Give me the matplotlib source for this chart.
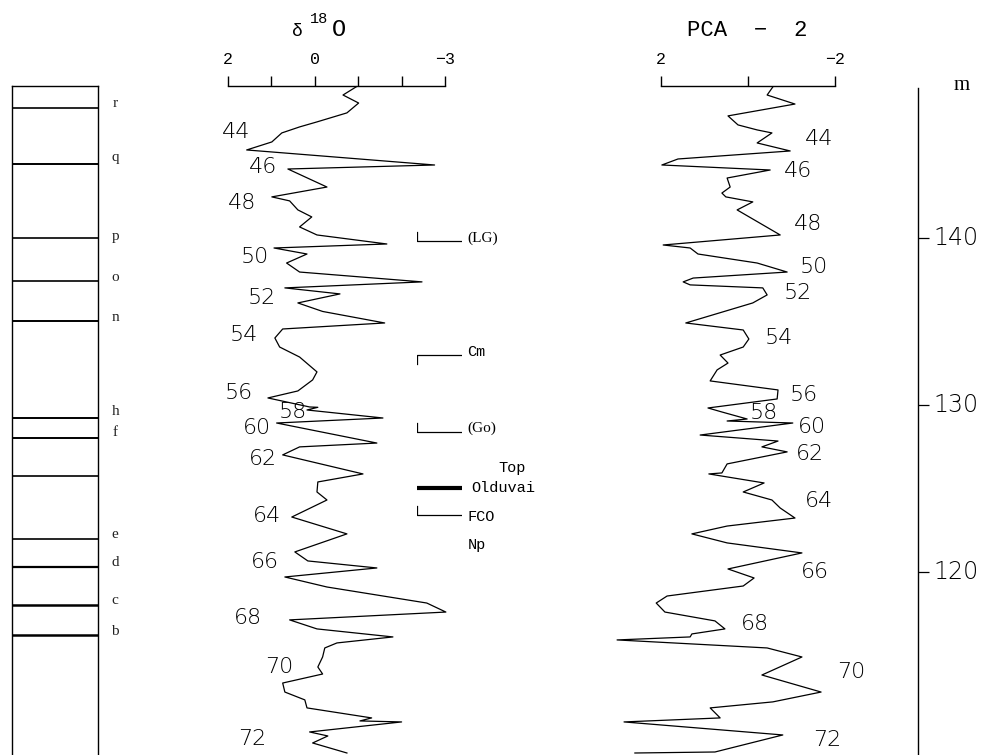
import matplotlib
matplotlib.use('Agg')
import matplotlib.pyplot as plt

# ---------------- data ----------------
# lithology column boundaries (depth, m) and labels
lith_depth = [147.8, 144.4, 140.0, 137.4, 135.0, 129.2, 128.0, 125.75, 122.0, 120.3, 118.0, 116.2]
lith_width = [1.2, 1.4, 1.2, 1.2, 1.4, 1.4, 1.4, 1.2, 1.2, 1.6, 1.8, 1.8]
lith_label_names = ['r', 'q', 'p', 'o', 'n', 'h', 'f', 'e', 'd', 'c', 'b']
lith_label_depth = [148.08, 144.79, 140.06, 137.66, 135.21, 129.58, 128.38, 122.22, 120.54, 118.32, 116.41]

# delta 18O curve
d18o_depth = [149.06, 148.56, 148.08, 147.49, 147.31, 146.95, 146.65, 146.29, 145.75, 145.27,
              144.37, 144.13, 143.05, 142.46, 142.22, 141.68, 141.26, 140.66, 140.18, 139.64,
              139.40, 139.04, 138.50, 137.96, 137.37, 137.01, 136.65, 136.11, 135.60, 134.91,
              134.55, 134.01, 133.47, 132.87, 131.98, 131.50, 130.84, 130.42, 129.88, 129.86,
              129.70, 129.22, 128.92, 127.72, 127.49, 127.01, 125.87, 125.39, 124.79, 124.31,
              123.29, 122.28, 121.20, 120.66, 120.24, 119.70, 119.10, 118.14, 117.60, 117.13,
              116.59, 116.11, 115.75, 115.45, 114.91, 114.31, 113.89, 113.35, 112.81, 112.34,
              111.86, 111.26, 111.08, 111.02, 110.42, 110.18, 109.76, 109.16]
d18o_value = [-0.96, -0.65, -1.01, -0.74, -0.51, -0.05, 0.35, 0.76, 0.99, 1.57,
              -2.76, 0.62, -0.28, 0.99, 0.58, 0.39, 0.07, 0.35, -0.05, -1.66,
              0.94, 0.18, 0.65, 0.35, -2.47, 0.69, -0.58, 0.39, -0.18, -1.61,
              0.74, 0.92, 0.81, 0.35, -0.05, 0.05, 0.39, 1.08, 0.12, -0.07,
              0.18, -1.57, 0.88, -1.43, 0.35, 0.74, -1.11, -0.07, -0.05, -0.28,
              0.53, -0.74, 0.46, 0.16, -1.43, 0.69, -0.28, -2.58, -3.02, 0.58,
              -0.05, -1.80, -0.51, -0.23, -0.18, -0.07, -0.18, 0.74, 0.69, 0.23,
              0.18, -1.31, -1.04, -2.00, 0.12, -0.30, 0.05, -0.74]

# PCA-2 curve
pca_depth = [149.04, 148.56, 148.02, 147.31, 146.77, 146.47, 146.29, 145.69, 145.21, 144.73,
             144.37, 144.07, 143.59, 143.05, 142.69, 142.46, 142.16, 141.68, 140.18, 139.58,
             139.40, 139.04, 138.50, 137.96, 137.60, 137.37, 137.19, 137.01, 136.59, 136.11,
             134.91, 134.49, 133.95, 133.47, 132.99, 132.51, 132.10, 131.44, 130.90, 130.36,
             129.82, 129.58, 129.16, 129.04, 128.92, 128.20, 127.84, 127.49, 127.19, 126.47,
             125.93, 125.87, 125.33, 124.79, 124.31, 123.83, 123.23, 122.75, 122.28, 121.74,
             121.14, 120.18, 119.64, 119.16, 118.56, 118.14, 117.60, 117.07, 116.59, 116.29,
             116.11, 115.93, 115.45, 114.91, 113.83, 112.81, 112.22, 111.86, 111.26, 111.02,
             110.24, 109.22, 109.16]
pca_value = [-0.57, -0.44, -1.08, 0.46, 0.23, -0.21, -0.55, -0.21, -0.97, 1.61,
             1.98, -0.51, 0.48, 0.41, 0.60, 0.51, -0.11, 0.25, -0.74, 1.95,
             1.33, 1.15, -0.21, -0.90, 1.26, 1.49, 1.33, -0.34, -0.44, -0.11,
             1.43, 0.11, -0.02, 0.11, 0.64, 0.46, 0.71, 0.87, -0.69, -0.67,
             0.92, 0.60, 0.02, 0.48, -1.03, 1.10, -0.69, -0.32, -0.90, 0.48,
             0.60, 0.90, -0.37, 0.11, -0.55, -0.74, -1.08, 0.48, 1.29, 0.48,
             -1.24, 0.46, -0.14, 0.11, 1.86, 2.11, 1.91, 0.76, 0.53, 1.29,
             1.33, 3.01, -0.44, -1.24, -0.32, -1.68, -0.57, 0.87, 0.64, 2.85,
             -0.80, 0.76, 2.60]

# isotope stage labels
stage_names = ['44', '46', '48', '50', '52', '54', '56', '58', '60', '62', '64', '66', '68', '70', '72']
d18o_stage_x = [1.82, 1.20, 1.68, 1.38, 1.22, 1.64, 1.75, 0.51, 1.34, 1.20, 1.11, 1.15, 1.54, 0.81, 1.45]
d18o_stage_depth = [146.35, 144.25, 142.10, 138.86, 136.41, 134.19, 130.72, 129.58, 128.62, 126.77,
                    123.35, 120.60, 117.25, 114.31, 110.0]
pca_stage_x = [-1.63, -1.15, -1.38, -1.52, -1.15, -0.71, -1.29, -0.37, -1.47, -1.43, -1.63, -1.54, -0.16, -2.37, -1.82]
pca_stage_depth = [145.93, 144.01, 140.84, 138.26, 136.71, 134.01, 130.60, 129.52, 128.68, 127.07,
                   124.25, 120.0, 116.89, 114.01, 109.94]

# bio/magneto events
event_names = ['(LG)', 'Cm', '(Go)', 'Top Olduvai', 'FCO Np']
event_depth = [139.8, 133.0, 128.4, 125.0, 123.4]
event_style = ['up', 'down', 'up', 'thick', 'up']

# axes ticks
d18o_ticks = [2, 1, 0, -1, -2, -3]
d18o_ticklabels = ['2', '', '0', '', '', '\u22123']
pca_ticks = [2, 0, -2]
pca_ticklabels = ['2', '', '\u22122']
depth_ticks = [140, 130, 120]

# ---------------- figure ----------------
W, H = 990, 755
fig = plt.figure(figsize=(W / 100, H / 100), dpi=100)
D_TOP, D_BOT = 149.1, 109.04
Y_TOP = 86


def px_axes(x0, x1):
    ax = fig.add_axes([x0 / W, 0, (x1 - x0) / W, (H - Y_TOP) / H])
    ax.set_ylim(D_BOT, D_TOP)
    ax.patch.set_alpha(0)
    return ax


NUMFONT = dict(family='DejaVu Sans', fontsize=16, fontweight='light', color='black')
MONO = 'Liberation Mono'
SERIF = 'Liberation Serif'

# ---- lithology column ----
axl = px_axes(12, 98)
axl.set_xlim(0, 1)
axl.spines['bottom'].set_visible(False)
for s in ['left', 'right', 'top']:
    axl.spines[s].set_linewidth(1.0)
axl.set_xticks([]); axl.set_yticks([])
for d, lw in zip(lith_depth, lith_width):
    axl.plot([0, 1], [d, d], color='black', lw=lw)
for name, d in zip(lith_label_names, lith_label_depth):
    axl.text(1.2, d, name, ha='center', va='center', family=SERIF, fontsize=11, color='#222222')

# ---- delta 18O ----
axd = px_axes(228, 445)
axd.set_xlim(2, -3)
for s in ['bottom', 'left', 'right']:
    axd.spines[s].set_visible(False)
axd.spines['top'].set_linewidth(1.0)
axd.xaxis.tick_top()
axd.set_xticks(d18o_ticks)
axd.set_xticklabels(d18o_ticklabels, family=MONO, fontsize=12)
axd.tick_params(axis='x', direction='out', length=7, width=1.0, pad=7)
axd.set_yticks([])
axd.plot(d18o_value, d18o_depth, color='black', lw=0.9, clip_on=False)
for name, x, d in zip(stage_names, d18o_stage_x, d18o_stage_depth):
    axd.text(x, d, name, ha='center', va='center', **NUMFONT)

# title delta 18 O
fig.text(297 / W, 1 - 31 / H, '\u03b4', ha='center', va='center', family=MONO, fontsize=13)
fig.text(319 / W, 1 - 19 / H, '18', ha='center', va='center', family=MONO, fontsize=11)
fig.text(339 / W, 1 - 29 / H, 'O', ha='center', va='center', family=MONO, fontsize=17)

# ---- events ----
axe = px_axes(417, 462)
axe.set_xlim(0, 1)
axe.axis('off')
tick_len = 0.55
for name, d, st in zip(event_names, event_depth, event_style):
    if st == 'thick':
        axe.plot([0, 1], [d, d], color='black', lw=3.0)
        top, rest = name.split(' ')
        axe.text(2.11, d + 1.2, top, ha='center', va='center', family=MONO, fontsize=11)
        axe.text(1.91, d + 0.05, rest, ha='center', va='center', family=MONO, fontsize=11)
        continue
    sgn = 1 if st == 'up' else -1
    axe.plot([0, 0, 1], [d + sgn * tick_len, d, d], color='black', lw=0.9)
    if ' ' in name:
        first, second = name.split(' ')
        axe.text(1.12, d - 0.1, first, ha='left', va='center', family=MONO, fontsize=11)
        axe.text(1.12, d - 1.8, second, ha='left', va='center', family=MONO, fontsize=11)
    else:
        axe.text(1.12, d + 0.2, name, ha='left', va='center',
                 family=SERIF if name.startswith('(') else MONO, fontsize=11)

# ---- PCA-2 ----
axp = px_axes(661, 835)
axp.set_xlim(2, -2)
for s in ['bottom', 'left', 'right']:
    axp.spines[s].set_visible(False)
axp.spines['top'].set_linewidth(1.0)
axp.xaxis.tick_top()
axp.set_xticks(pca_ticks)
axp.set_xticklabels(pca_ticklabels, family=MONO, fontsize=12)
axp.tick_params(axis='x', direction='out', length=7, width=1.0, pad=7)
axp.set_yticks([])
axp.plot(pca_value, pca_depth, color='black', lw=0.9, clip_on=False)
for name, x, d in zip(stage_names, pca_stage_x, pca_stage_depth):
    axp.text(x, d, name, ha='center', va='center', **NUMFONT)
fig.text(747 / W, 1 - 30 / H, 'PCA  \u2212  2', ha='center', va='center', family=MONO, fontsize=16)

# ---- depth axis ----
axz = px_axes(880, 918)
for s in ['bottom', 'left', 'top']:
    axz.spines[s].set_visible(False)
axz.spines['right'].set_bounds(D_BOT, 148.98)
axz.spines['right'].set_linewidth(1.0)
axz.set_xticks([])
axz.yaxis.tick_right()
axz.set_yticks(depth_ticks)
axz.set_yticklabels([str(t) for t in depth_ticks], family='DejaVu Sans', fontsize=17,
                    fontweight='light', color='black')
axz.tick_params(axis='y', direction='out', length=8, width=0.9, pad=3)
for lab in axz.get_yticklabels():
    lab.set_verticalalignment('center')
axz.text(2.16, 149.1, 'm', transform=axz.get_yaxis_transform(), ha='center', va='center',
         family=SERIF, fontsize=15)

fig.savefig('out.png', dpi=100)
